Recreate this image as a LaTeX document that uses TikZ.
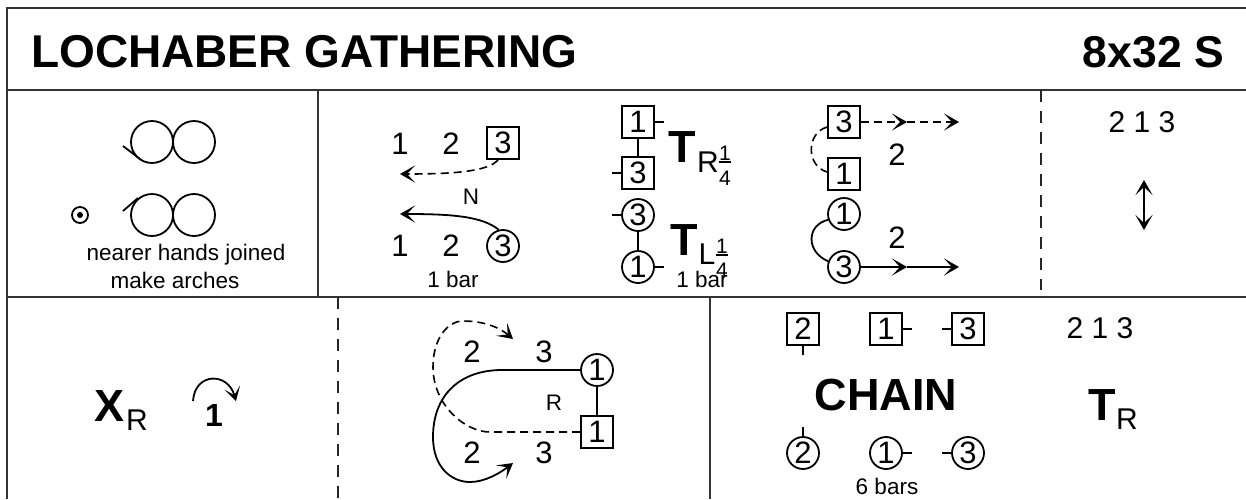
\documentclass[tikz,border=0pt]{standalone}
\usepackage{fontspec}
\setmainfont{Liberation Sans}
\usetikzlibrary{arrows.meta}
\tikzset{
 x=1pt,y=-1pt,
 frameline/.style={line width=2.2pt,color=black!80},
 divider/.style={line width=1.8pt,dash pattern=on 12pt off 9pt,color=black!85},
 num/.style={inner sep=0pt,font=\fontsize{31}{31}\selectfont},
 small/.style={inner sep=0pt,font=\fontsize{22.5}{22.5}\selectfont},
 order/.style={inner sep=0pt,font=\fontsize{30}{30}\selectfont},
 boxd/.style={draw,line width=1.8pt,minimum size=32pt,inner sep=0pt,font=\fontsize{31}{31}\selectfont},
 circd/.style={draw,circle,line width=1.8pt,minimum size=32pt,inner sep=0pt,font=\fontsize{31}{31}\selectfont},
 loopc/.style={draw,circle,line width=1.8pt,minimum size=42pt,inner sep=0pt},
 bigT/.style={inner sep=0pt,font=\fontsize{45}{45}\selectfont\bfseries},
 subR/.style={inner sep=0pt,font=\fontsize{30}{30}\selectfont},
 fracn/.style={inner sep=0pt,font=\fontsize{21}{21}\selectfont},
 tick/.style={line width=2pt},
 hold/.style={line width=2.8pt},
 head/.style={-{Stealth[length=15pt,width=17pt,inset=8pt]}},
 trail/.style={line width=1.8pt,head},
 plain/.style={line width=1.8pt},
 dashedtrack/.style={line width=1.6pt,dash pattern=on 8pt off 5pt},
}
\begin{document}
\begin{tikzpicture}
\useasboundingbox (0,0) rectangle (1246,499);
% frame
\coordinate (ftl) at (7,8); \coordinate (ftr) at (1246,8);
\coordinate (fbl) at (7,499);
\draw[frameline] (fbl) -- (ftl) -- (ftr);
\coordinate (h1l) at (7,90); \coordinate (h1r) at (1246,90);
\coordinate (h2l) at (7,297); \coordinate (h2r) at (1246,297);
\draw[frameline] (h1l) -- (h1r);
\draw[frameline] (h2l) -- (h2r);
\coordinate (v1a) at (318,90); \coordinate (v1b) at (318,297);
\draw[frameline] (v1a) -- (v1b);
\coordinate (v2a) at (710,297); \coordinate (v2b) at (710,499);
\draw[frameline] (v2a) -- (v2b);
\coordinate (d1a) at (1041,90); \coordinate (d1b) at (1041,290);
\draw[divider] (d1a) -- (d1b);
\coordinate (d2a) at (338,297); \coordinate (d2b) at (338,499);
\draw[divider] (d2a) -- (d2b);
% title
\node[anchor=west,inner sep=0pt,font=\fontsize{46}{46}\selectfont\bfseries] (title) at (31,52) {LOCHABER GATHERING};
\node[anchor=east,inner sep=0pt,font=\fontsize{44.5}{44.5}\selectfont\bfseries] (form) at (1224,52) {8x32 S};
% panel 1
\node[loopc] (c1) at (152,142) {};
\node[loopc] (c2) at (194,142) {};
\node[loopc] (c3) at (152,215) {};
\node[loopc] (c4) at (194,215) {};
\coordinate (t1) at (123,146); \coordinate (t1e) at (140,159);
\coordinate (t2) at (123,211); \coordinate (t2e) at (138,198);
\draw[plain] (t1) -- (t1e);
\draw[plain] (t2) -- (t2e);
\node[draw,circle,line width=1.8pt,minimum size=16pt,inner sep=0pt] (eye) at (80,215) {};
\fill (eye.center) circle (3);
\node[small] (n1) at (186,255) {nearer hands joined};
\node[small] (n2) at (175,280) {make arches};
% panel 2a
\node[num] (a1) at (400,144) {1};
\node[num] (a2) at (451,144) {2};
\node[boxd] (a3) at (503,143) {3};
\node[num] (b1) at (400,246) {1};
\node[num] (b2) at (451,246) {2};
\node[circd] (b3) at (503,246) {3};
\coordinate (ae) at (400,174); \coordinate (be) at (400,214);
\draw[trail,dashedtrack] ([xshift=-5pt]a3.south) .. controls (488,172) and (450,174) .. (ae);
\draw[trail] (b3.105) .. controls (482,216) and (450,214) .. (be);
\node[small] (nn) at (471,197) {N};
\node[small] (bar1) at (453,279) {1 bar};
% panel 2b
\node[boxd] (p1) at (638,122) {1};
\node[boxd] (p3) at (638,173) {3};
\node[circd] (q3) at (638,215) {3};
\node[circd] (q1) at (638,267) {1};
\draw[hold] (p1.south) -- (p3.north);
\draw[hold] (q3.south) -- (q1.north);
\draw[tick] (p1.east) -- ++(9,0);
\draw[tick] (p3.west) -- ++(-9,0);
\draw[tick] (q3.west) -- ++(-9,0);
\draw[tick] (q1.east) -- ++(9,0);
\node[bigT] (tr) at (682,147) {T};
\node[subR] (trs) at (708,162) {R};
\node[fracn] (trn) at (725,153) {1};
\node[fracn] (trd) at (725,178) {4};
\coordinate (tra) at (719,162); \coordinate (trb) at (731,162);
\draw[line width=1.5pt] (tra) -- (trb);
\node[bigT] (tl) at (684,240) {T};
\node[subR] (tls) at (707,254) {L};
\node[fracn] (tln) at (722,246) {1};
\node[fracn] (tld) at (722,270) {4};
\coordinate (tlc) at (716,255); \coordinate (tld2) at (728,255);
\draw[line width=1.5pt] (tlc) -- (tld2);
\node[small] (bar2) at (702,279) {1 bar};
% panel 2c
\node[boxd] (r3) at (844,122) {3};
\node[boxd] (r1) at (844,174) {1};
\node[circd] (s1) at (844,214) {1};
\node[circd] (s3) at (844,267) {3};
\coordinate (re) at (959,122); \coordinate (se) at (959,267);
\coordinate (rm) at (907,122); \coordinate (sm) at (907,267);
\draw[trail,dashedtrack] (r3.east) -- (rm);
\draw[trail,dashedtrack] (rm) -- (re);
\draw[trail] (s3.east) -- (sm);
\draw[trail] (sm) -- (se);
\draw[dashedtrack] ([yshift=-5pt]r3.west) .. controls (806,133) and (806,166) .. ([yshift=2pt]r1.west);
\draw[plain] (s1.200) .. controls (806,225) and (806,252) .. (s3.160);
\node[num] (r2) at (897,155) {2};
\node[num] (s2) at (897,238) {2};
% panel 3
\node[order] (o1) at (1142,122) {2 1 3};
\coordinate (ua) at (1144,180); \coordinate (ub) at (1144,230);
\draw[plain,{Stealth[length=15pt,width=17pt,inset=8pt]}-{Stealth[length=15pt,width=17pt,inset=8pt]}] (ua) -- (ub);
% bottom left
\node[bigT] (x) at (110,406) {X};
\node[subR] (xs) at (137,420) {R};
\node[inner sep=0pt,font=\fontsize{32}{32}\selectfont\bfseries] (one) at (214,415) {1};
\coordinate (ca) at (193,401); \coordinate (cb) at (236,401);
\draw[plain,-{Stealth[length=14pt,width=16pt,inset=8pt]}] (ca) .. controls (195,372) and (228,372) .. (cb);
% bottom middle
\node[num] (e2) at (472,352) {2};
\node[num] (e3) at (544,352) {3};
\node[num] (f2) at (472,453) {2};
\node[num] (f3) at (544,453) {3};
\node[circd] (g1) at (597,370) {1};
\node[boxd] (h1) at (597,432) {1};
\node[small] (rr) at (554,403) {R};
\draw[hold] (g1.south) -- (h1.north);
\coordinate (ge) at (513,463); \coordinate (he) at (513,339);
\draw[trail] (g1.west) -- (502,370) .. controls (460,370) and (433,395) .. (433,437) .. controls (433,468) and (452,482) .. (470,482) .. controls (485,482) and (500,473) .. (ge);
\draw[trail,dashedtrack] (h1.west) -- (490,432) .. controls (465,432) and (433,405) .. (433,367) .. controls (433,338) and (448,321) .. (463,321) .. controls (485,321) and (500,328) .. (he);
% chain
\node[boxd] (k2) at (803,329) {2};
\node[boxd] (k1) at (886,329) {1};
\node[boxd] (k3) at (968,329) {3};
\node[circd] (l2) at (803,453) {2};
\node[circd] (l1) at (886,453) {1};
\node[circd] (l3) at (968,453) {3};
\draw[tick] (k2.south) -- ++(0,9);
\draw[tick] (k1.east) -- ++(9,0);
\draw[tick] (k3.west) -- ++(-9,0);
\draw[tick] (l2.north) -- ++(0,-9);
\draw[tick] (l1.east) -- ++(9,0);
\draw[tick] (l3.west) -- ++(-9,0);
\node[inner sep=0pt,font=\fontsize{45}{45}\selectfont\bfseries] (chain) at (886,395) {CHAIN};
\node[small] (six) at (887,486) {6 bars};
\node[order] (o2) at (1100,328) {2 1 3};
\node[bigT] (ft) at (1102,405) {T};
\node[subR] (fts) at (1127,419) {R};
\end{tikzpicture}
\end{document}
